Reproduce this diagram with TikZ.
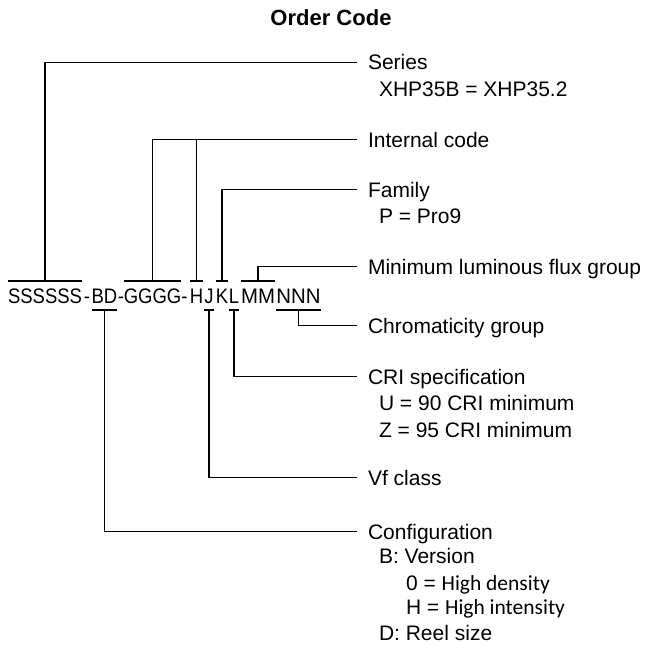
\documentclass[tikz,border=0pt]{standalone}
\usepackage{fontspec}
\setmainfont{Liberation Sans}
\newfontfamily\codefont[FakeStretch=0.88]{Liberation Sans}
\newfontfamily\codefontw[FakeStretch=0.97]{Liberation Sans}
\newfontfamily\calfont{Carlito}
\begin{document}
\begin{tikzpicture}[x=1pt,y=-1pt,line width=1.2pt,
  lbl/.style={anchor=base west,inner sep=0pt,outer sep=0pt,text height=15pt,text depth=0pt,font=\fontsize{21}{25}\selectfont},
  code/.style={anchor=base,inner sep=0pt,outer sep=0pt,text height=15pt,text depth=0pt,font=\codefont\fontsize{21}{25}\selectfont},
  codew/.style={code,font=\codefontw\fontsize{21}{25}\selectfont},
  titlestyle/.style={anchor=base,inner sep=0pt,font=\bfseries\fontsize{22}{26}\selectfont}]
\useasboundingbox (0,0) rectangle (652,647);

\node[titlestyle] (title) at (331,26) {Order Code};

% code string
\node[code] (cS) at (45,303) {SSSSSS};
\node[code] (h1) at (87,303) {-};
\node[code] (cB) at (104.5,303) {BD};
\node[code] (h2) at (121,303) {-};
\node[code] (cG) at (152.5,303) {GGGG};
\node[code] (h3) at (184.5,303) {-};
\node[code] (cH) at (196.5,303) {H};
\node[code] (cJ) at (209,303) {J};
\node[code] (cK) at (222,303) {K};
\node[code] (cL) at (234,303) {L};
\node[codew] (cM) at (258,303) {MM};
\node[codew] (cN) at (298.5,303) {NNN};

% labels
\node[lbl] (series) at (368,70) {Series};
\node[lbl] (seriesA) at (379,97) {XHP35B = XHP35.2};
\node[lbl] (internal) at (368,147) {Internal code};
\node[lbl] (family) at (368,197) {Family};
\node[lbl] (familyA) at (379,223) {P = Pro9};
\node[lbl] (minlum) at (368,274) {Minimum luminous flux group};
\node[lbl] (chrom) at (368,333) {Chromaticity group};
\node[lbl] (cri) at (368,384) {CRI specification};
\node[lbl] (criA) at (379,410) {U = 90 CRI minimum};
\node[lbl] (criB) at (379,437) {Z = 95 CRI minimum};
\node[lbl] (vf) at (368,485) {Vf class};
\node[lbl] (config) at (368,539) {Configuration};
\node[lbl] (configA) at (379,563) {B: Version};
\node[lbl] (configB) at (406,590) {0 = {\calfont\fontsize{21.5}{25}\selectfont High density}};
\node[lbl] (configC) at (406,614) {H = {\calfont\fontsize{21.5}{25}\selectfont High intensity}};
\node[lbl] (configD) at (379,640) {D: Reel size};

% over bars
\foreach \n in {cS,cG,cH,cK,cM}
  \draw ([yshift=7pt]\n.north west) -- ([yshift=7pt]\n.north east);
% under bars
\foreach \n in {cB,cJ,cL,cN}
  \draw ([yshift=-7pt]\n.south west) -- ([yshift=-7pt]\n.south east);

% connectors
\draw ([yshift=7pt]cS.north) |- ([xshift=-11pt]series.west);
\draw ([yshift=7pt]cG.north) |- ([xshift=-11pt]internal.west);
\draw ([yshift=7pt]cH.north) |- ([xshift=-11pt]internal.west);
\draw ([yshift=7pt]cK.north) |- ([xshift=-11pt]family.west);
\draw ([yshift=7pt]cM.north) |- ([xshift=-11pt]minlum.west);
\draw ([yshift=-7pt]cN.south) |- ([xshift=-11pt]chrom.west);
\draw ([yshift=-7pt]cL.south) |- ([xshift=-11pt]cri.west);
\draw ([yshift=-7pt]cJ.south) |- ([xshift=-11pt]vf.west);
\draw ([yshift=-7pt]cB.south) |- ([xshift=-11pt]config.west);
\end{tikzpicture}
\end{document}
